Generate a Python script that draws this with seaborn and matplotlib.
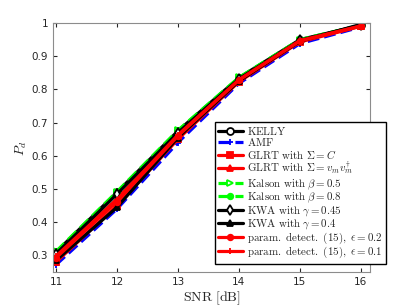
import numpy as np
import pandas as pd
import matplotlib
matplotlib.use("Agg")
import matplotlib.pyplot as plt
import seaborn as sns

snr = [11, 12, 13, 14, 15, 16]

kelly = [0.310, 0.490, 0.675, 0.835, 0.950, 0.993]
amf = [0.272, 0.440, 0.640, 0.818, 0.938, 0.988]
glrt_c = [0.280, 0.450, 0.650, 0.823, 0.943, 0.990]
glrt_v = [0.300, 0.470, 0.665, 0.830, 0.948, 0.992]
kalson_05 = [0.312, 0.492, 0.677, 0.836, 0.950, 0.993]
kalson_08 = [0.308, 0.488, 0.673, 0.834, 0.949, 0.993]
kwa_045 = [0.305, 0.485, 0.670, 0.832, 0.948, 0.993]
kwa_04 = [0.285, 0.445, 0.655, 0.825, 0.945, 0.996]
param_02 = [0.293, 0.462, 0.660, 0.828, 0.946, 0.991]
param_01 = [0.298, 0.468, 0.663, 0.829, 0.947, 0.991]

labels = [
    r"$\mathrm{KELLY}$",
    r"$\mathrm{AMF}$",
    r"$\mathrm{GLRT\ with\ }\Sigma = C$",
    r"$\mathrm{GLRT\ with\ }\Sigma = v_m v_m^{\dagger}$",
    r"$\mathrm{Kalson\ with\ }\beta = 0.5$",
    r"$\mathrm{Kalson\ with\ }\beta = 0.8$",
    r"$\mathrm{KWA\ with\ }\gamma = 0.45$",
    r"$\mathrm{KWA\ with\ }\gamma = 0.4$",
    r"$\mathrm{param.\ detect.\ (15),\ }\epsilon = 0.2$",
    r"$\mathrm{param.\ detect.\ (15),\ }\epsilon = 0.1$",
]
series = [kelly, amf, glrt_c, glrt_v, kalson_05, kalson_08, kwa_045, kwa_04, param_02, param_01]

# color, linestyle, marker, facecolor
styles = [
    ("black", "-", "o", "white"),
    ("blue", "--", "+", "blue"),
    ("red", "-", "s", "red"),
    ("red", "-", "^", "red"),
    ("lime", "--", ">", "white"),
    ("lime", "--", "o", "lime"),
    ("black", "-", "d", "white"),
    ("black", "-", "^", "black"),
    ("red", "-", "o", "red"),
    ("red", "-", "+", "red"),
]

sns.set_style("white")
plt.rcParams["font.family"] = ["DejaVu Sans"]
plt.rcParams["mathtext.fontset"] = "cm"

fig = plt.figure(figsize=(4.09, 3.07), dpi=100)
ax = fig.add_axes([0.1296, 0.114, 0.775, 0.811])

for lab, vals, (c, ls, m, fc) in zip(labels, series, styles):
    df = pd.DataFrame({"snr": snr, "pd": vals})
    ms = 4 if m == "o" and fc != "white" else 5
    sns.lineplot(data=df, x="snr", y="pd", ax=ax, color=c, linestyle=ls,
                 marker=m, markersize=ms, markerfacecolor=fc,
                 markeredgecolor=c, markeredgewidth=1.3, linewidth=2.3,
                 label=lab)

ax.set_xlim(10.95, 16.15)
ax.set_ylim(0.25, 1.0)
ax.set_xticks(snr)
ax.set_yticks([0.3, 0.4, 0.5, 0.6, 0.7, 0.8, 0.9, 1.0])
ax.set_yticklabels(["0.3", "0.4", "0.5", "0.6", "0.7", "0.8", "0.9", "1"])
ax.tick_params(direction="in", length=3, labelsize=7.5, colors="#262626",
               top=True, right=True, bottom=True, left=True)
for s in ax.spines.values():
    s.set_color("#8c8c8c")
    s.set_linewidth(0.8)

ax.set_xlabel(r"$\mathrm{SNR\ [dB]}$", fontsize=10, labelpad=2)
ax.set_ylabel(r"$P_d$", fontsize=10, labelpad=2)

ax.legend(loc="upper left", bbox_to_anchor=(0.526, 0.603),
          bbox_transform=fig.transFigure, fontsize=7.9, frameon=True,
          fancybox=False, edgecolor="black", framealpha=1,
          handlelength=2.2, handleheight=0.8, labelspacing=-0.07,
          borderpad=0.3, handletextpad=0.4, borderaxespad=0)

fig.savefig("out.png", dpi=100)
